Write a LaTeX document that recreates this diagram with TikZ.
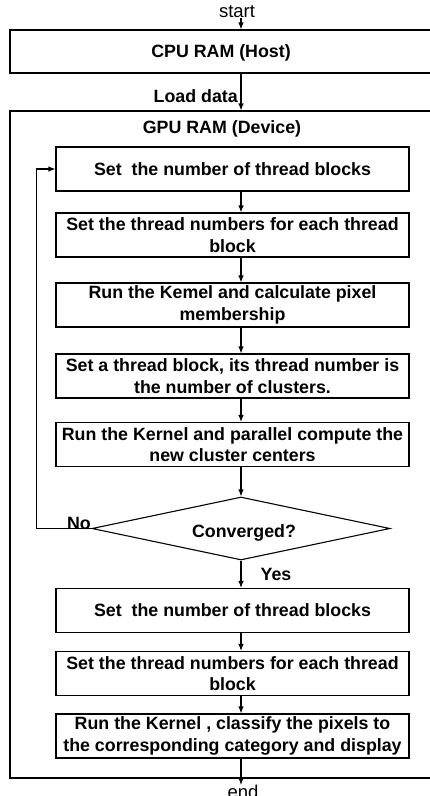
\documentclass[tikz,border=0pt]{standalone}
\usepackage{fontspec}
\setmainfont{Liberation Sans}
\usetikzlibrary{arrows.meta,shapes.geometric}
\begin{document}
\begin{tikzpicture}[x=1pt,y=-1pt,
  stepbox/.style={draw, line width=1.1pt, minimum width=353pt, minimum height=44pt,
    inner sep=0pt, align=center, font=\bfseries\fontsize{17.8}{21.6}\selectfont},
  bigbox/.style={draw, line width=1.1pt, inner sep=0pt},
  lbl/.style={inner sep=0pt, font=\bfseries\fontsize{17.8}{21.6}\selectfont},
  term/.style={inner sep=0pt, font=\fontsize{18.5}{20}\selectfont},
  arr/.style={-{Latex[length=7pt,width=5.5pt]}, line width=1.1pt},
  ln/.style={line width=1.1pt}]
\useasboundingbox (0,0) rectangle (430,796);
\coordinate (ax) at (241,0);
% terminals
\node[term] (start) at (237,12) {start};
\node[term, anchor=north] (end) at (243,785) {end};
% outer boxes
\node[bigbox, minimum width=422pt, minimum height=43pt] (cpu) at (221,51.5) {};
\node[lbl] (cputxt) at (221,53) {CPU RAM (Host)};
\node[bigbox, minimum width=422pt, minimum height=667pt] (gpu) at (221,444.5) {};
\node[lbl] (gputxt) at (222,129) {GPU RAM (Device)};
\node[lbl, anchor=east] (load) at (238,96) {Load data};
% steps
\node[stepbox] (b1) at (232.5,169) {Set~ the number of thread blocks};
\node[stepbox] (b2) at (232.5,235) {Set the thread numbers for each thread\\block};
\node[stepbox] (b3) at (232.5,305) {Run the Kemel and calculate pixel\\membership};
\node[stepbox] (b4) at (232.5,376) {Set a thread block, its thread number is\\the number of clusters.};
\node[stepbox] (b5) at (232.5,444.5) {Run the Kernel and parallel compute the\\new cluster centers};
\node[draw, diamond, aspect=4.73, line width=1.1pt, minimum width=298pt, minimum height=63pt,
  inner sep=0pt, font=\bfseries\fontsize{17.8}{21.6}\selectfont] (dia) at (241,528.5) {};
\node[lbl] (diatxt) at (244,533) {Converged?};
\node[stepbox] (b6) at (232.5,610.5) {Set~ the number of thread blocks};
\node[stepbox] (b7) at (232.5,673.5) {Set the thread numbers for each thread\\block};
\node[stepbox] (b8) at (232.5,736) {Run the Kernel , classify the pixels to\\the corresponding category and display};
% labels
\node[lbl, anchor=base] (no) at (79,529) {No};
\node[lbl] (yes) at (276,574) {Yes};
% connectors
\draw[arr] (ax |- start.south) -- (ax |- cpu.north);
\draw[arr] (ax |- cpu.south) -- (ax |- gpu.north);
\draw[arr] (b1.south -| ax) -- (b2.north -| ax);
\draw[arr] (b2.south -| ax) -- (b3.north -| ax);
\draw[arr] (b3.south -| ax) -- (b4.north -| ax);
\draw[arr] (b4.south -| ax) -- (b5.north -| ax);
\draw[arr] (b5.south -| ax) -- (dia.north);
\draw[arr] (dia.south) -- (b6.north -| dia.south);
\draw[arr] (b6.south -| ax) -- (b7.north -| ax);
\draw[arr] (b7.south -| ax) -- (b8.north -| ax);
\draw[arr] (b8.south -| ax) -- (end.north -| ax);
\draw[arr] (dia.west) -- ++(-55,0) |- (b1.west);
\end{tikzpicture}
\end{document}
